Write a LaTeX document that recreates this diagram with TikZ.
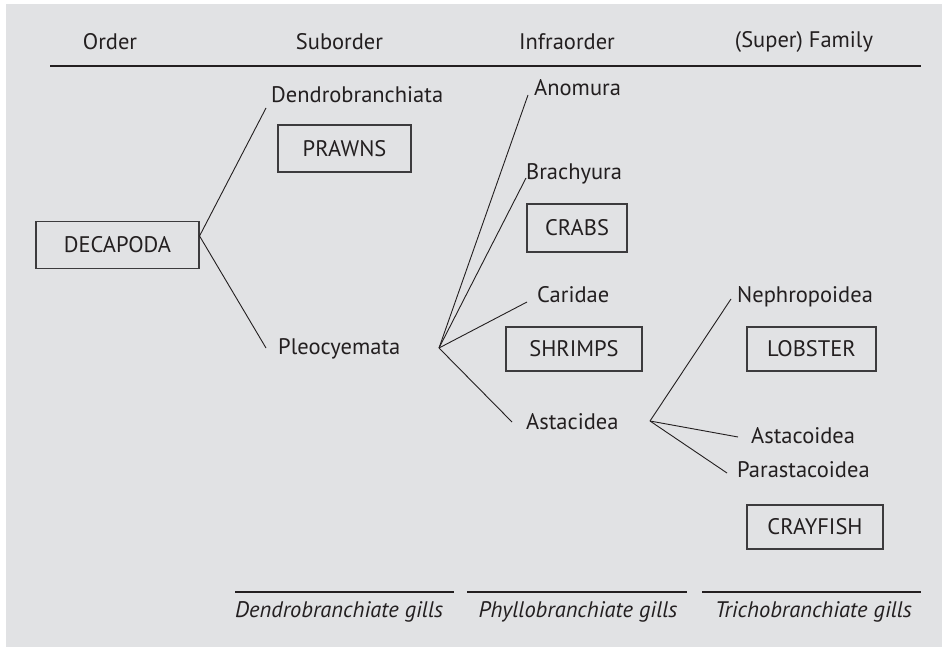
\documentclass[tikz,border=0pt]{standalone}
\usepackage{fontspec}
\setmainfont{PT Sans}
\usepackage{xcolor}
\usepackage{tikz}
\usetikzlibrary{positioning}
\definecolor{panelgray}{HTML}{E1E2E4}
\definecolor{inkdark}{HTML}{231F20}
\definecolor{boxedge}{HTML}{3C3B3D}

\begin{document}
\begin{tikzpicture}[
  x=1pt, y=-1pt,
  every node/.style={text=inkdark, font=\fontsize{22.5}{27}\selectfont},
  rank/.style={anchor=center, inner sep=0pt},
  taxon/.style={anchor=west, inner sep=0pt, text height=15.5pt, text depth=0pt},
  taxbox/.style={draw=boxedge, line width=1.1pt, inner sep=0pt},
  gills/.style={inner sep=0pt, text height=15.5pt, text depth=0pt,
    font=\fontsize{22.5}{27}\selectfont\itshape},
  branch/.style={draw=inkdark, line width=0.9pt},
  rule/.style={draw=inkdark, line width=1.1pt},
]
  \useasboundingbox (0,0) rectangle (942,647);
  \fill[white] (0,0) rectangle (942,647);
  \fill[panelgray] (6,4) rectangle (942,647);

  \node[rank] (order) at (110,42) {Order};
  \node[rank] (suborder) at (339.5,42) {Suborder};
  \node[rank] (infraorder) at (567,42) {Infraorder};
  \node[rank] (superfamily) at (804,42) {(Super) Family};
  \draw[rule] (50,66) -- (921,66);

  \node[taxbox, minimum width=163pt, minimum height=47pt] (decapoda) at (117.5,245) {DECAPODA};
  \node[taxbox, minimum width=133pt, minimum height=47pt] (prawns) at (344.5,148.5) {PRAWNS};
  \node[taxbox, minimum width=100pt, minimum height=48pt] (crabs) at (577,228) {CRABS};
  \node[taxbox, minimum width=136pt, minimum height=44pt] (shrimps) at (574,349) {SHRIMPS};
  \node[taxbox, minimum width=129pt, minimum height=44pt] (lobster) at (811.5,349) {LOBSTER};
  \node[taxbox, minimum width=136pt, minimum height=44pt] (crayfish) at (815,527) {CRAYFISH};

  \node[taxon] (dendro) at (271,95) {Dendrobranchiata};
  \node[taxon] (pleo) at (278,347) {Pleocyemata};
  \node[taxon] (anomura) at (534,88) {Anomura};
  \node[taxon] (brachyura) at (526,172) {Brachyura};
  \node[taxon] (caridae) at (537,295) {Caridae};
  \node[taxon] (astacidea) at (526,422) {Astacidea};
  \node[taxon] (nephro) at (737,295) {Nephropoidea};
  \node[taxon] (astacoidea) at (751,436) {Astacoidea};
  \node[taxon] (parastacoidea) at (737,470) {Parastacoidea};

  \coordinate (pleofork) at (439,348);
  \coordinate (astacfork) at (650,421);

  \draw[branch] ([xshift=-5pt,yshift=-13pt]dendro.west) -- ([yshift=9pt]decapoda.east)
    -- ([xshift=-12pt,yshift=-1pt]pleo.west);
  \draw[branch] (pleofork) -- ([xshift=-6pt,yshift=-7pt]anomura.west);
  \draw[branch] (pleofork) -- ([yshift=-6pt]brachyura.west);
  \draw[branch] (pleofork) -- ([xshift=-10pt,yshift=-7pt]caridae.west);
  \draw[branch] (pleofork) -- ([xshift=-14pt]astacidea.west);
  \draw[branch] (astacfork) -- ([xshift=-6pt,yshift=-4pt]nephro.west);
  \draw[branch] (astacfork) -- ([xshift=-13pt,yshift=-1pt]astacoidea.west);
  \draw[branch] (astacfork) -- ([xshift=-10pt,yshift=-3pt]parastacoidea.west);

  \draw[rule] (235,592) -- (454,592);
  \draw[rule] (467,592) -- (687,592);
  \draw[rule] (702,592) -- (921,592);
  \node[gills, anchor=west] (dendrogills) at (235,610) {Dendrobranchiate gills};
  \node[gills] (phyllogills) at (578,610) {Phyllobranchiate gills};
  \node[gills] (trichogills) at (813.5,610) {Trichobranchiate gills};
\end{tikzpicture}
\end{document}
